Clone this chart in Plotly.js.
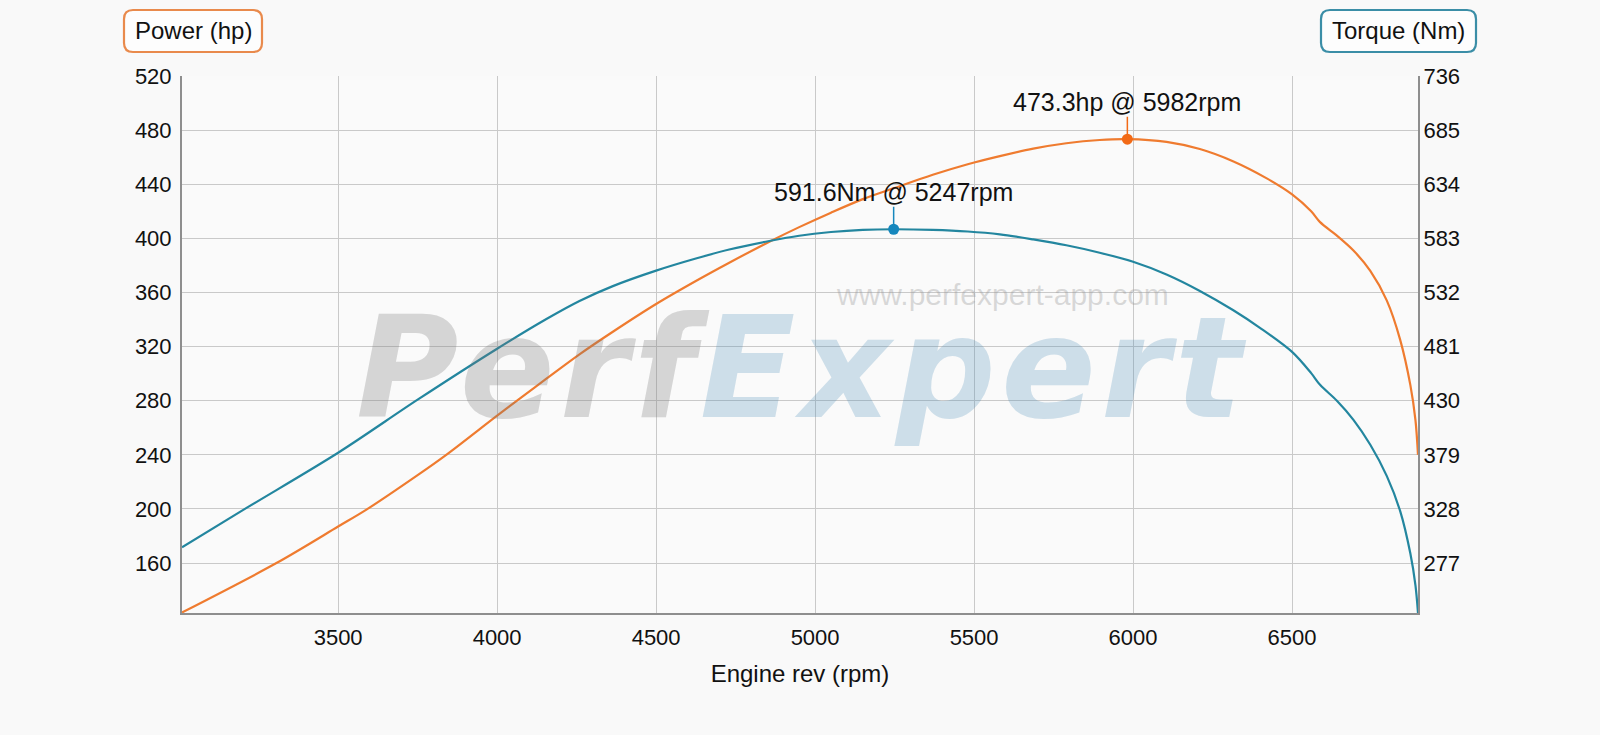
<!DOCTYPE html>
<html><head><meta charset="utf-8">
<script src="https://cdn.plot.ly/plotly-3.0.1.min.js"></script>
<style>html,body{margin:0;padding:0;background:#f9f9f9}</style>
</head><body><div id="chart" style="width:1600px;height:735px"></div>
<script>
// ---- data ----
const rpmTorque = [3009,3212,3500,3750,4000,4155,4259,4364,4500,4625,4730,4856,4950,5050,5150,5247,5370,5480,5581,5686,5790,5895,6000,6105,6210,6314,6400,6500,6560,6588,6641,6693,6746,6798,6840,6872,6888,6896];
const torqueNm  = [292,329,381,431,479,507,524,538,552.6,564,572.5,580.5,585.5,589,591,591.6,591,589.5,586.8,582,576.5,569.5,561,549,533.5,515.5,498.5,476,456,445,430,412,388.5,359,326,286,256,230];
const rpmPower  = [3009,3306,3500,3589,3750,3840,4000,4071,4155,4259,4364,4500,4625,4730,4856,4950,5050,5150,5247,5370,5480,5581,5686,5790,5895,5982,6105,6210,6314,6419,6500,6560,6588,6641,6693,6746,6798,6840,6872,6888,6896];
const powerHp   = [123.5,160,187,199.5,225,240,269,281.5,296.3,314.3,331,351.5,368.5,382,397.5,408.3,419,429,437,447,454.8,460.8,466.3,470.3,472.7,473.3,471.3,466,457,444.5,432.5,420,412,402,391,376,354,325,291.5,265.6,240];
const peakTorqueRpm = [5247];
const peakTorqueNm  = [591.6];
const peakPowerRpm  = [5982];
const peakPowerHp   = [473.3];
const rpmTicks = [3500,4000,4500,5000,5500,6000,6500];
const hpTicks  = [160,200,240,280,320,360,400,440,480,520];
const nmTicks  = [277,328,379,430,481,532,583,634,685,736];
const xTitle = 'Engine rev (rpm)';
const powerTitle = 'Power (hp)';
const torqueTitle = 'Torque (Nm)';

// ---- styling ----
const ORANGE = '#ef7b2f', TEAL = '#23869f';
const ORANGE_DOT = '#f26a16', TEAL_DOT = '#1687bd';
const FONT = 'Liberation Sans, Arial, Helvetica, sans-serif';
const L = 182, R = 182, T = 76, B = 122, W = 1600 - L - R, H = 735 - T - B;
const px = v => (v - L) / W;
const py = v => (735 - B - v) / H;
function roundRect(x0, y0, x1, y1, r) {
  const X = px, Y = py;
  return 'M' + X(x0 + r) + ',' + Y(y0) +
    ' L' + X(x1 - r) + ',' + Y(y0) +
    ' Q' + X(x1) + ',' + Y(y0) + ' ' + X(x1) + ',' + Y(y0 + r) +
    ' L' + X(x1) + ',' + Y(y1 - r) +
    ' Q' + X(x1) + ',' + Y(y1) + ' ' + X(x1 - r) + ',' + Y(y1) +
    ' L' + X(x0 + r) + ',' + Y(y1) +
    ' Q' + X(x0) + ',' + Y(y1) + ' ' + X(x0) + ',' + Y(y1 - r) +
    ' L' + X(x0) + ',' + Y(y0 + r) +
    ' Q' + X(x0) + ',' + Y(y0) + ' ' + X(x0 + r) + ',' + Y(y0) + ' Z';
}

const traces = [
  {x: rpmTorque, y: torqueNm, yaxis: 'y2', type: 'scatter', mode: 'lines',
   line: {color: TEAL, width: 2.2, shape: 'spline', smoothing: 0.9}, hoverinfo: 'skip', name: 'Torque'},
  {x: rpmPower, y: powerHp, yaxis: 'y', type: 'scatter', mode: 'lines',
   line: {color: ORANGE, width: 2.2, shape: 'spline', smoothing: 0.9}, hoverinfo: 'skip', name: 'Power'},
  {x: peakTorqueRpm, y: peakTorqueNm, yaxis: 'y2', type: 'scatter', mode: 'markers',
   marker: {color: TEAL_DOT, size: 11}, hoverinfo: 'skip'},
  {x: peakPowerRpm, y: peakPowerHp, yaxis: 'y', type: 'scatter', mode: 'markers',
   marker: {color: ORANGE_DOT, size: 11}, hoverinfo: 'skip'}
];

const axisCommon = {
  showline: true, linecolor: '#8e8e8e', linewidth: 2, zeroline: false,
  gridcolor: '#c9c9c9', gridwidth: 1, ticks: '',
  tickfont: {family: FONT, size: 22, color: '#111'}
};

const layout = {
  width: 1600, height: 735,
  margin: {l: L, r: R, t: T, b: B},
  paper_bgcolor: '#f9f9f9', plot_bgcolor: '#fafafa',
  showlegend: false,
  font: {family: FONT, color: '#111'},
  xaxis: Object.assign({}, axisCommon, {
    range: [3009, 6896], tickvals: rpmTicks, ticktext: rpmTicks.map(String),
    showgrid: true, ticklabelstandoff: 4,
    title: {text: xTitle, font: {family: FONT, size: 24, color: '#111'}, standoff: 16}
  }),
  yaxis: Object.assign({}, axisCommon, {
    range: [123.1, 520], tickvals: hpTicks, ticktext: hpTicks.map(String),
    showgrid: true, ticklabelstandoff: 4
  }),
  yaxis2: Object.assign({}, axisCommon, {
    range: [230, 736], tickvals: nmTicks, ticktext: nmTicks.map(String),
    overlaying: 'y', side: 'right', showgrid: false, ticklabelstandoff: -1
  }),
  shapes: [
    {type: 'path', xref: 'paper', yref: 'paper', path: roundRect(124, 10, 262, 52, 9),
     line: {color: '#e98a4c', width: 2.2}, fillcolor: 'rgba(255,255,255,0.6)'},
    {type: 'path', xref: 'paper', yref: 'paper', path: roundRect(1321, 10, 1476, 52, 9),
     line: {color: '#3b8ea7', width: 2.2}, fillcolor: 'rgba(255,255,255,0.6)'}
  ],
  annotations: [
    {xref: 'paper', yref: 'paper', x: px(801), y: py(368), xanchor: 'center', yanchor: 'middle',
     showarrow: false,
     text: '<span style="color:rgba(120,120,120,0.28);letter-spacing:5px">Perf</span><span style="color:rgba(70,140,185,0.25);letter-spacing:5px">Expert</span>',
     font: {family: 'DejaVu Sans, sans-serif', size: 140, weight: 'bold', style: 'italic'}},
    {xref: 'paper', yref: 'paper', x: px(1002), y: py(294), xanchor: 'center', yanchor: 'middle',
     showarrow: false, text: 'www.perfexpert-app.com',
     font: {family: FONT, size: 30, color: 'rgba(150,150,150,0.35)'}},
    {xref: 'paper', yref: 'paper', x: px(193), y: py(31), xanchor: 'center', yanchor: 'middle',
     showarrow: false, text: powerTitle, font: {family: FONT, size: 24, color: '#111'}},
    {xref: 'paper', yref: 'paper', x: px(1398.5), y: py(31), xanchor: 'center', yanchor: 'middle',
     showarrow: false, text: torqueTitle, font: {family: FONT, size: 24, color: '#111'}},
    {x: peakPowerRpm[0], y: peakPowerHp[0], xref: 'x', yref: 'y',
     text: peakPowerHp[0].toFixed(1) + 'hp @ ' + peakPowerRpm[0] + 'rpm',
     showarrow: true, arrowhead: 0, arrowwidth: 1.5, arrowcolor: ORANGE_DOT, ax: 0, ay: -37,
     borderpad: 0, font: {family: FONT, size: 25, color: '#111'}},
    {x: peakTorqueRpm[0], y: peakTorqueNm[0], xref: 'x', yref: 'y2',
     text: peakTorqueNm[0].toFixed(1) + 'Nm @ ' + peakTorqueRpm[0] + 'rpm',
     showarrow: true, arrowhead: 0, arrowwidth: 1.5, arrowcolor: TEAL_DOT, ax: 0, ay: -37,
     borderpad: 0, font: {family: FONT, size: 25, color: '#111'}}
  ]
};

Plotly.newPlot('chart', traces, layout, {displayModeBar: false, staticPlot: true});
</script>
</body></html>
